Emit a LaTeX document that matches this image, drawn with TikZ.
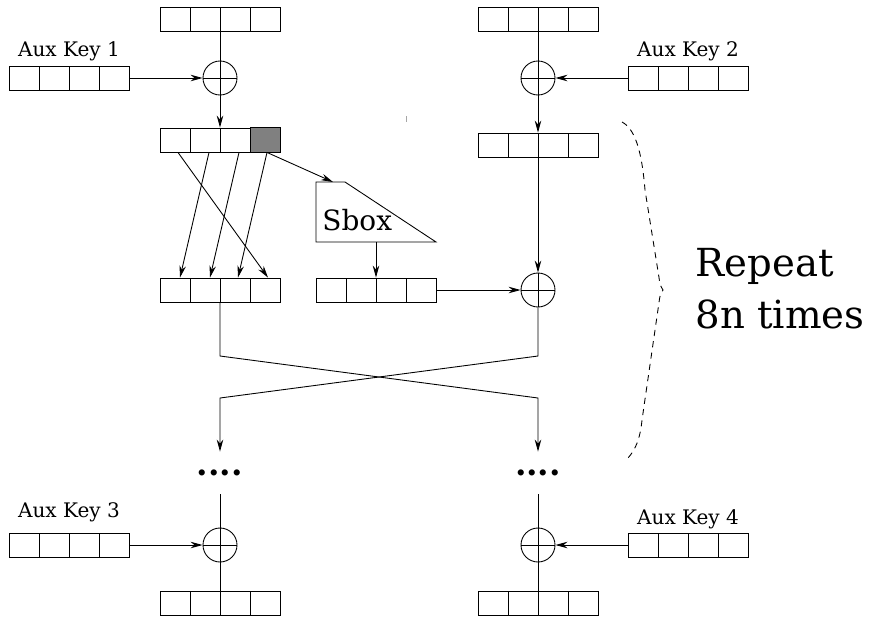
\documentclass[tikz,border=0pt]{standalone}
\usepackage{fontspec}
\setmainfont{DejaVu Serif}
\usetikzlibrary{arrows.meta,positioning}

\begin{document}
\begin{tikzpicture}[>={Stealth[length=2.4mm,width=1.3mm]},line width=0.5pt,
  reg/.style={draw,minimum width=2.4cm,minimum height=0.48cm,inner sep=0pt,
    path picture={\foreach \dx in {-0.6,0,0.6}
      \draw ([xshift=\dx cm]path picture bounding box.north) -- ([xshift=\dx cm]path picture bounding box.south);}},
  xorc/.style={draw,circle,minimum size=0.68cm,inner sep=0pt,
    path picture={\draw (path picture bounding box.north) -- (path picture bounding box.south)
      (path picture bounding box.west) -- (path picture bounding box.east);}},
  keylab/.style={inner sep=0pt,font=\fontsize{11.4}{13}\selectfont},
  dotsn/.style={inner sep=0pt,minimum height=0.84cm,font=\fontsize{18.8}{20}\selectfont\bfseries}]
  \useasboundingbox (0,0) rectangle (17.5,-12.32);
  % left column, first round
  \node[reg] (R1) at (4.4,-0.38) {};
  \node[xorc] (X1) at (4.4,-1.56) {};
  \node[reg] (K1) at (1.38,-1.56) {};
  \node[keylab,above=0.09cm of K1] (k1lab) {Aux Key 1};
  \node[reg] (R2) at (4.4,-2.8) {};
  \filldraw[fill=gray] ([xshift=-0.6cm]R2.north east) rectangle (R2.south east);
  \node[reg] (R3) at (4.4,-5.8) {};
  \draw (R1) -- (X1); \draw[->] (K1) -- (X1); \draw[->] (X1) -- (R2);
  % permutation of the cells
  \draw[->] ([xshift=-0.22cm]R2.south) -- ([xshift=-0.8cm]R3.north);
  \draw[->] ([xshift=0.38cm]R2.south) -- ([xshift=-0.2cm]R3.north);
  \draw[->] ([xshift=0.94cm]R2.south) -- ([xshift=0.36cm]R3.north);
  \draw[->] ([xshift=-0.84cm]R2.south) -- ([xshift=0.96cm]R3.north);
  % sbox
  \coordinate (sbin) at (6.66,-3.64);
  \coordinate (sbout) at (7.52,-4.84);
  \draw (6.32,-3.64) -- (6.90,-3.64) -- (8.72,-4.84) -- (6.32,-4.84) -- cycle;
  \node[anchor=base west,inner sep=0pt,font=\fontsize{15.9}{18}\selectfont] (sbl) at (6.44,-4.6) {Sbox};
  \draw[->] ([xshift=0.94cm]R2.south) -- (sbin);
  \node[reg] (R4) at (7.52,-5.8) {};
  \draw[->] (sbout) -- (R4);
  % right column
  \node[reg] (R5) at (10.76,-0.38) {};
  \node[xorc] (X2) at (10.76,-1.56) {};
  \node[reg] (K2) at (13.76,-1.56) {};
  \node[keylab,above=0.09cm of K2] (k2lab) {Aux Key 2};
  \node[reg] (R6) at (10.76,-2.9) {};
  \node[xorc] (X3) at (10.76,-5.8) {};
  \draw (R5) -- (X2); \draw[->] (K2) -- (X2); \draw[->] (X2) -- (R6);
  \draw[->] (R6) -- (X3); \draw[->] (R4) -- (X3);
  % swap
  \coordinate (bendL) at (4.4,-7.12);
  \coordinate (bendR) at (10.76,-7.12);
  \coordinate (lowL) at (4.4,-7.96);
  \coordinate (lowR) at (10.76,-7.96);
  \node[dotsn] (dotsL) at (4.4,-9.46) {....};
  \node[dotsn] (dotsR) at (10.76,-9.46) {....};
  \draw[->] (R3) -- (bendL) -- (lowR) -- (dotsR);
  \draw[->] (X3) -- (bendR) -- (lowL) -- (dotsL);
  % last round
  \node[xorc] (X4) at (4.4,-10.9) {};
  \node[xorc] (X5) at (10.76,-10.9) {};
  \node[reg] (K3) at (1.38,-10.9) {};
  \node[keylab,above=0.21cm of K3] (k3lab) {Aux Key 3};
  \node[reg] (K4) at (13.76,-10.9) {};
  \node[keylab,above=0.07cm of K4] (k4lab) {Aux Key 4};
  \node[reg] (R7) at (4.4,-12.06) {};
  \node[reg] (R8) at (10.76,-12.06) {};
  \draw (dotsL) -- (X4); \draw (X4) -- (R7); \draw[->] (K3) -- (X4);
  \draw (dotsR) -- (X5); \draw (X5) -- (R8); \draw[->] (K4) -- (X5);
  % repeat brace
  \draw[dash pattern=on 3.5pt off 3pt] (12.44,-2.44) .. controls (12.75,-2.6) and (12.85,-3.2) .. (12.9,-3.8)
    -- (13.18,-5.55) .. controls (13.2,-5.7) .. (13.26,-5.8)
    .. controls (13.2,-5.9) .. (13.18,-6.05) -- (12.84,-8.4)
    .. controls (12.8,-8.8) and (12.7,-9.0) .. (12.56,-9.16);
  \node[anchor=west,align=left,inner sep=0pt,font=\fontsize{22}{29.6}\selectfont] (rep) at (13.9,-5.78) {Repeat\\8n times};
  \draw[gray!70] (8.12,-2.32) -- (8.12,-2.44);
\end{tikzpicture}
\end{document}
